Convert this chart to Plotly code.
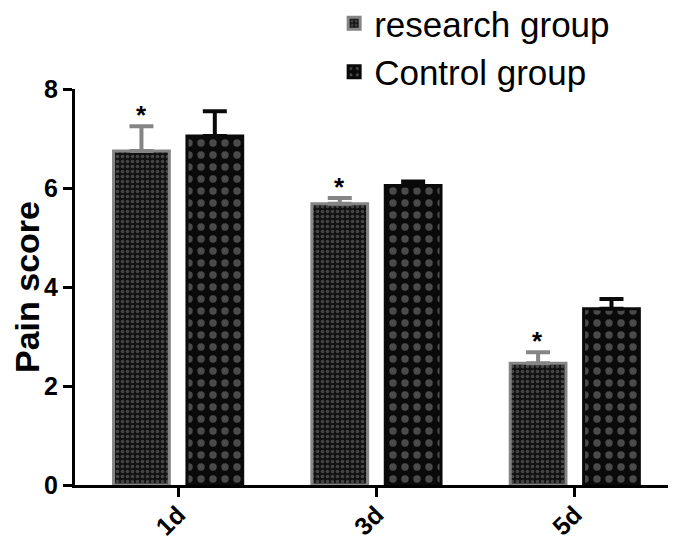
import plotly.graph_objects as go

categories = ["1d", "3d", "5d"]
research_mean = [6.75, 5.68, 2.46]
research_err = [0.5, 0.12, 0.22]
control_mean = [7.05, 6.05, 3.56]
control_err = [0.5, 0.08, 0.2]
y_ticks = [0, 2, 4, 6, 8]
series_names = ["research group", "Control group"]
sig_mark = "*"

FONT = "Liberation Sans, Arial, Helvetica, sans-serif"

fig = go.Figure()
fig.add_trace(go.Bar(
    x=categories, y=research_mean, name=series_names[0],
    marker=dict(
        color="#111111",
        line=dict(color="#858585", width=3),
        pattern=dict(shape=".", bgcolor="#111111", fgcolor="#7a7a7a",
                     size=5, solidity=0.4, fillmode="overlay"),
    ),
    error_y=dict(type="data", symmetric=False, array=research_err,
                 arrayminus=[0] * len(research_err),
                 color="#858585", thickness=4, width=12),
))
fig.add_trace(go.Bar(
    x=categories, y=control_mean, name=series_names[1],
    marker=dict(
        color="#0a0a0a",
        line=dict(color="#0a0a0a", width=3),
        pattern=dict(shape=".", bgcolor="#0a0a0a", fgcolor="#8a8a8a",
                     size=12, solidity=0.3, fillmode="overlay"),
    ),
    error_y=dict(type="data", symmetric=False, array=control_err,
                 arrayminus=[0] * len(control_err),
                 color="#0a0a0a", thickness=4, width=12),
))

for c, m, e in zip(categories, research_mean, research_err):
    fig.add_annotation(x=c, y=m + e, xref="x", yref="y", text=sig_mark,
                       showarrow=False, xshift=-37, yshift=-6,
                       yanchor="bottom",
                       font=dict(family=FONT, size=26, color="black", weight="bold"))

fig.update_layout(
    width=680, height=545,
    margin=dict(l=67, r=20, t=81, b=68, autoexpand=False),
    plot_bgcolor="white", paper_bgcolor="white",
    barmode="group", bargap=0.26, bargroupgap=0.24,
    font=dict(family=FONT, color="black"),
    legend=dict(x=0.437, y=1.24, xanchor="left", yanchor="top",
                font=dict(family=FONT, size=35, color="black"),
                bgcolor="rgba(0,0,0,0)", tracegroupgap=0, itemwidth=30),
)
fig.update_xaxes(
    range=[-0.52, 2.47], showline=True, linecolor="black", linewidth=3,
    ticks="outside", ticklen=9, tickwidth=3, tickcolor="black",
    tickangle=-45, showgrid=False, zeroline=False, ticklabelstandoff=-7,
    tickfont=dict(family=FONT, size=25, color="black", weight="bold"),
)
fig.update_yaxes(
    range=[0, 8], tickvals=y_ticks, showline=True, linecolor="black",
    linewidth=3, ticks="outside", ticklen=9, tickwidth=3, tickcolor="black",
    showgrid=False, zeroline=False,
    title=dict(text="Pain score", standoff=10,
               font=dict(family=FONT, size=34, color="black", weight="bold")),
    tickfont=dict(family=FONT, size=25, color="black", weight="bold"),
)

fig.write_html("out.html")
